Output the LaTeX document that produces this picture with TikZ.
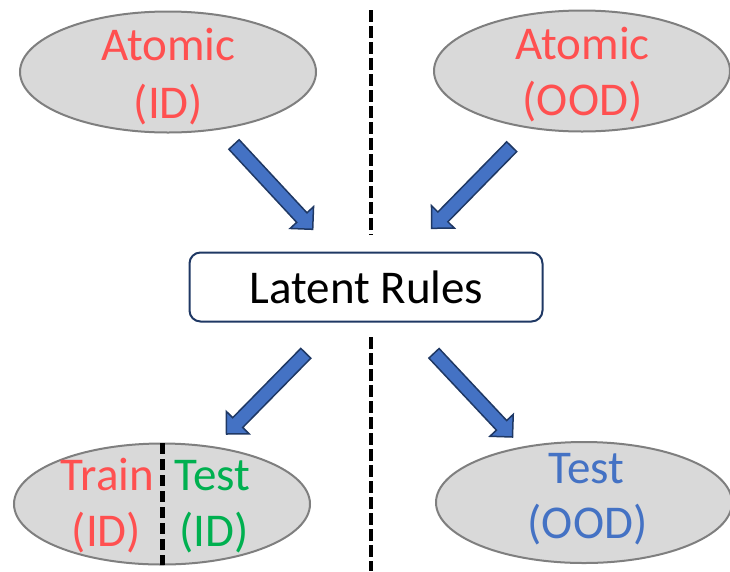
\documentclass[tikz,border=0pt]{standalone}
\usepackage{fontspec}
\setmainfont{Carlito}
\usetikzlibrary{calc,shapes.geometric}

\definecolor{idred}{HTML}{FF5050}
\definecolor{idgreen}{HTML}{00B050}
\definecolor{oodblue}{HTML}{4472C4}
\definecolor{ellfill}{HTML}{D9D9D9}
\definecolor{ellline}{HTML}{7F7F7F}
\definecolor{arrowline}{HTML}{1F3864}

% block arrow: #1 name, #2 tail coordinate, #3 tip coordinate
\newcommand\blockarrow[3]{%
  \coordinate (#1-n) at ($(#3)!16pt!(#2)$);
  \draw[blockarr]
    ($(#2)!7pt!90:(#3)$) -- ($(#1-n)!7pt!90:(#3)$) -- ($(#1-n)!16pt!90:(#3)$)
    -- (#3)
    -- ($(#1-n)!16pt!-90:(#3)$) -- ($(#1-n)!7pt!-90:(#3)$) -- ($(#2)!7pt!-90:(#3)$)
    -- cycle;
}

\tikzset{
  ellip/.style={ellipse, draw=ellline, line width=2pt, fill=ellfill,
                minimum width=296pt, minimum height=121pt, inner sep=0pt},
  lbl/.style={anchor=base, inner sep=0pt, font=\fontsize{47}{56}\selectfont},
  rulebox/.style={draw=arrowline, line width=2pt, rounded corners=11pt, fill=white,
                  minimum width=353pt, minimum height=69pt, inner sep=0pt},
  blockarr/.style={fill=oodblue, draw=arrowline, line width=1.5pt, line join=miter},
  sepline/.style={line width=4.5pt, dash pattern=on 11.7pt off 4.3pt},
  divider/.style={line width=5pt, dash pattern=on 11pt off 5pt},
}

\begin{document}
\begin{tikzpicture}[x=1pt,y=-1pt]
\useasboundingbox (0,0) rectangle (730,571);

% vertical separator between in- and out-of-distribution halves
\coordinate (s1a) at (371,10);
\coordinate (s1b) at (371,235);
\coordinate (s2a) at (371,337);
\coordinate (s2b) at (371,571);
\draw[sepline] (s1a) -- (s1b);
\draw[sepline] (s2a) -- (s2b);

% top ellipses
\node[ellip] (atid) at (168,72) {};
\node[lbl, text=idred] (atid1) at (168.5,60) {Atomic};
\node[lbl, text=idred] (atid2) at (168.5,118) {(ID)};

\node[ellip] (atood) at (582,71) {};
\node[lbl, text=idred] (atood1) at (582.5,59.5) {Atomic};
\node[lbl, text=idred] (atood2) at (582.5,115.5) {(OOD)};

% central box
\node[rulebox] (rules) at (366,287) {};
\node[lbl] (rulestxt) at (366.5,303) {Latent Rules};

% bottom ellipses
\node[ellip] (bid) at (162,504) {};
\node[lbl, text=idred] (train1) at (107.5,490.5) {Train};
\node[lbl, text=idred] (train2) at (106.5,546.5) {(ID)};
\node[lbl, text=idgreen] (test1) at (212.5,490.5) {Test};
\node[lbl, text=idgreen] (test2) at (214,546.5) {(ID)};
\coordinate (dv1) at (162,443);
\coordinate (dv2) at (162,565);
\draw[divider] (dv1) -- (dv2);

\node[ellip] (bood) at (584,502.5) {};
\node[lbl, text=oodblue] (tood1) at (586.5,483) {Test};
\node[lbl, text=oodblue] (tood2) at (587.5,538) {(OOD)};

% block arrows
\coordinate (a1t) at (234,144.5);
\coordinate (a1h) at (312.7,229.3);
\coordinate (a2t) at (511.7,146.7);
\coordinate (a2h) at (431.7,228.3);
\coordinate (a3t) at (305.8,353.3);
\coordinate (a3h) at (226.5,434);
\coordinate (a4t) at (434,353.3);
\coordinate (a4h) at (512.5,437);
\blockarrow{a1}{a1t}{a1h}
\blockarrow{a2}{a2t}{a2h}
\blockarrow{a3}{a3t}{a3h}
\blockarrow{a4}{a4t}{a4h}
\end{tikzpicture}
\end{document}
